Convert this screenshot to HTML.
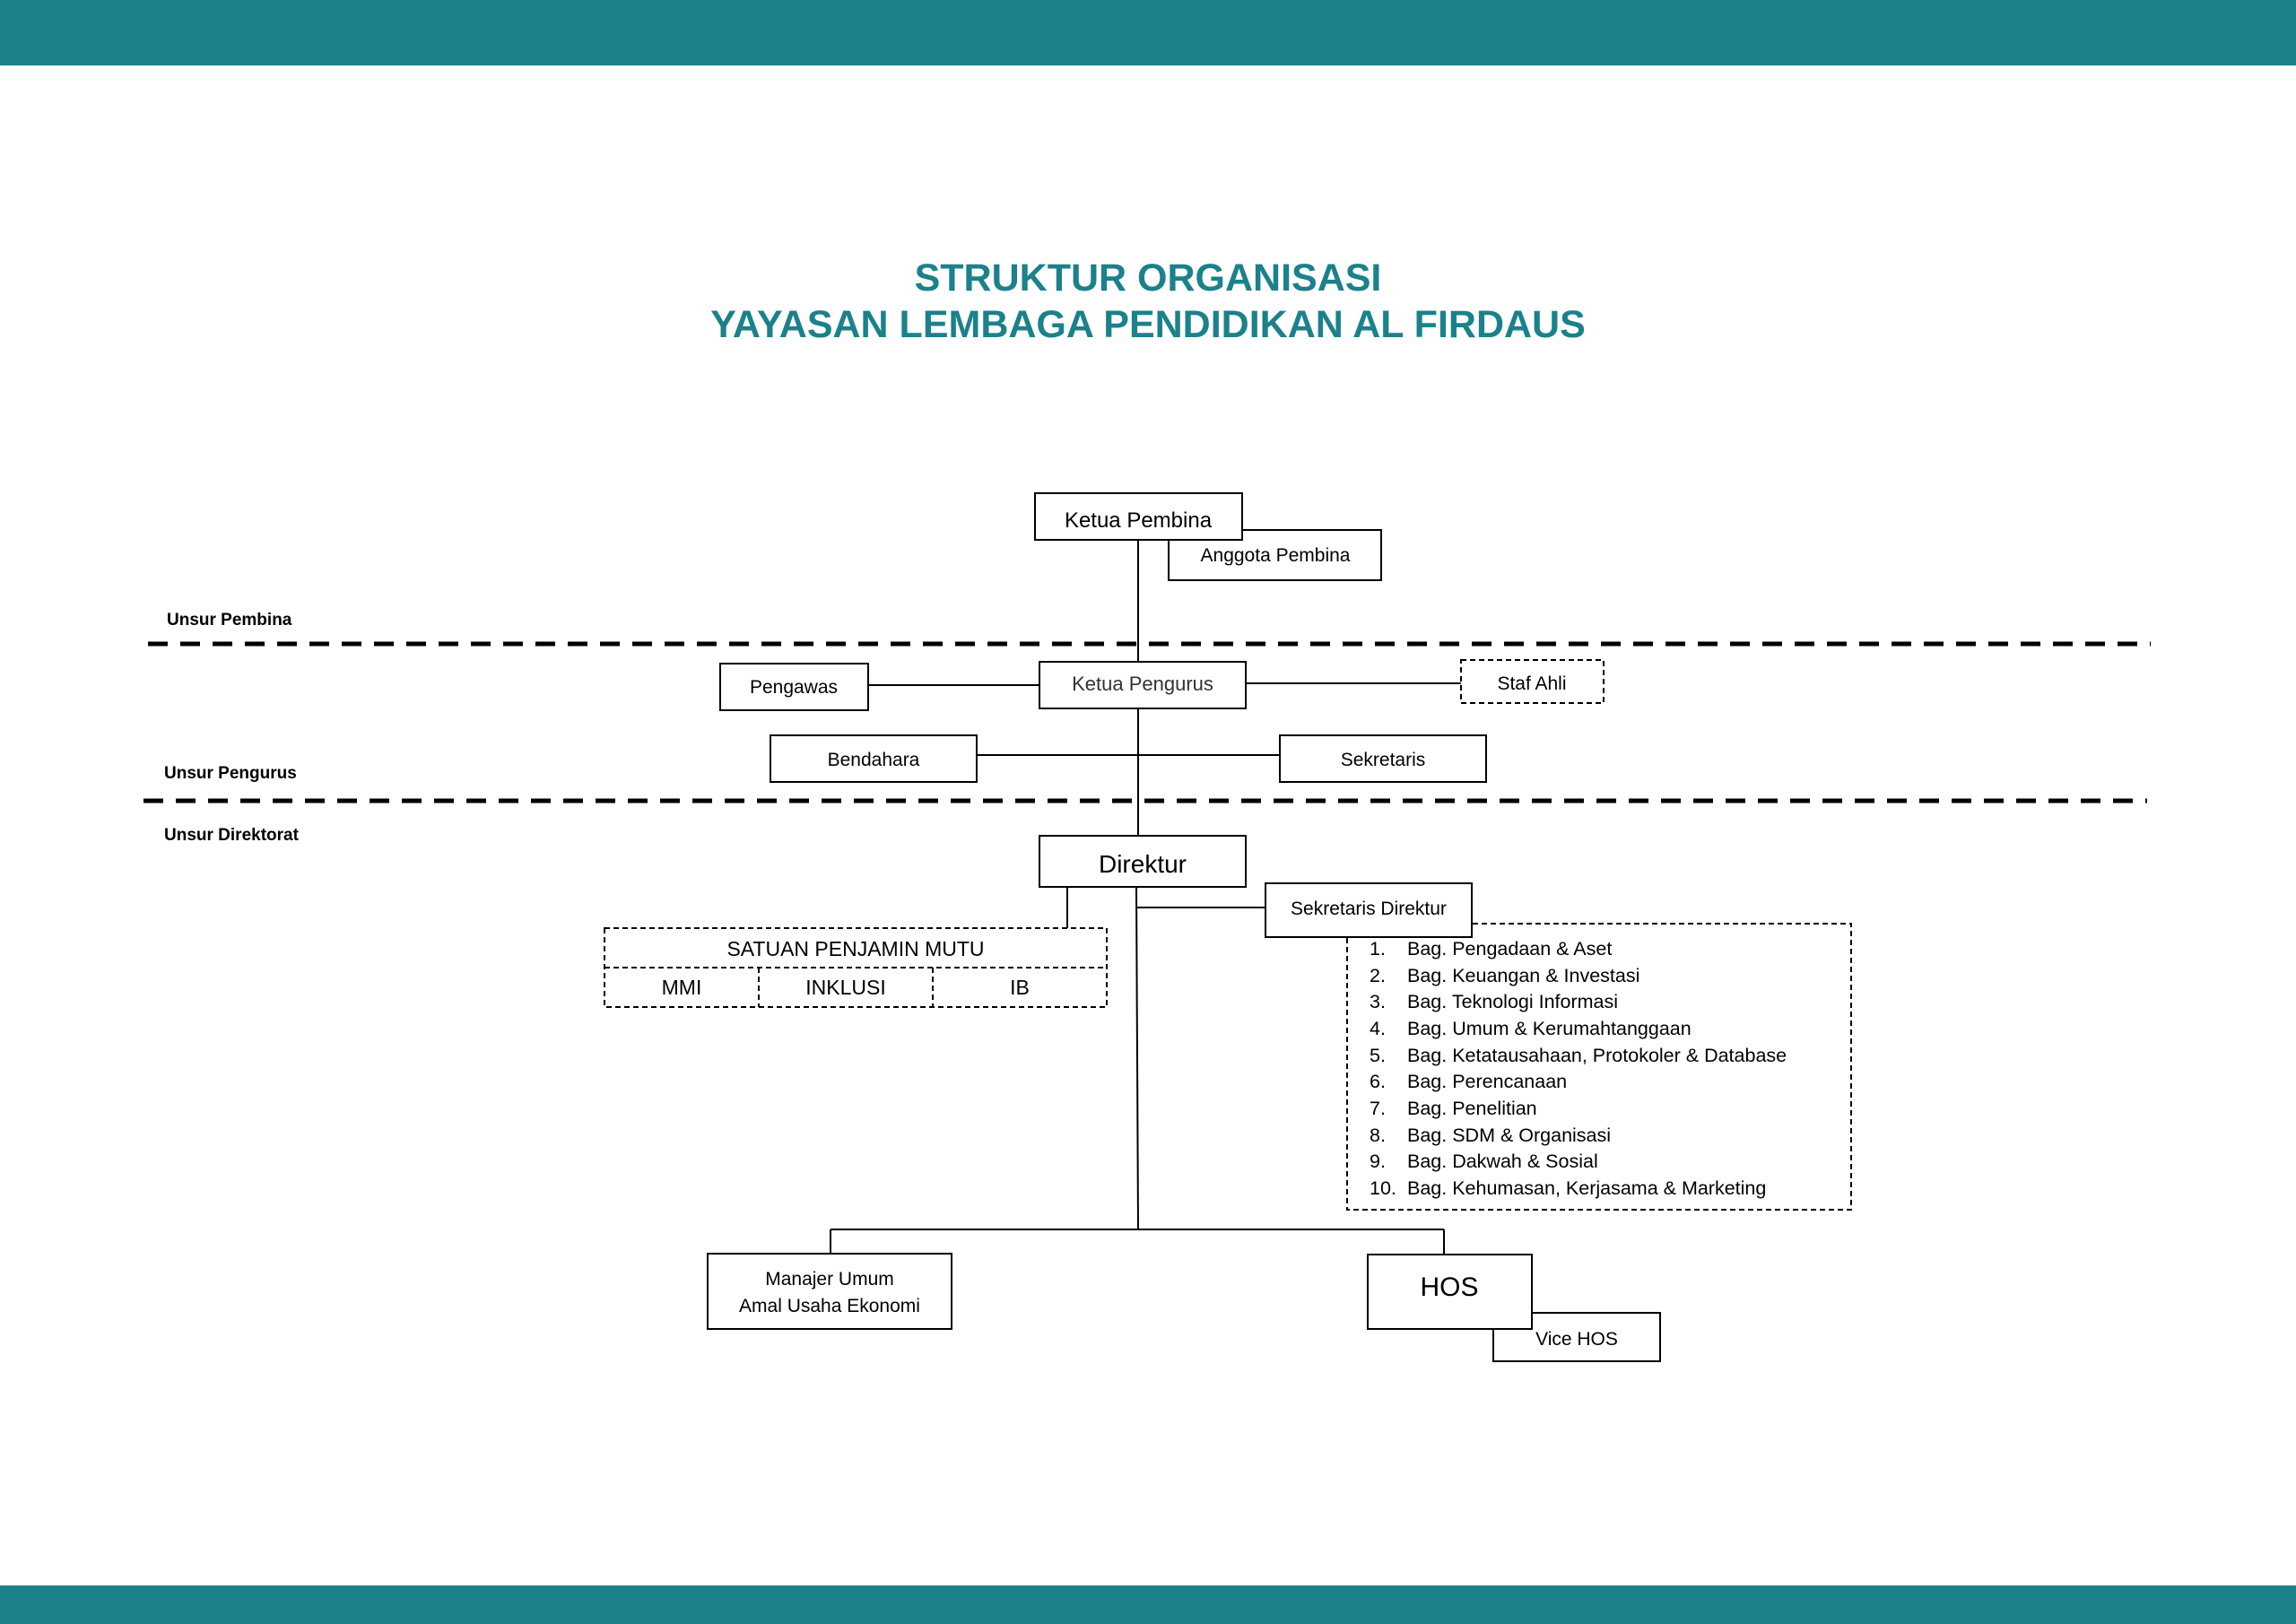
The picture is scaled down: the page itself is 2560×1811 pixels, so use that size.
<!DOCTYPE html>
<html><head><meta charset="utf-8"><style>
html,body{margin:0;padding:0;background:#fff;}
svg{display:block;}
text{font-family:"Liberation Sans",sans-serif;fill:#000;}
</style></head><body>
<svg width="2560" height="1811" viewBox="0 0 2560 1811" xmlns="http://www.w3.org/2000/svg">
<rect x="0" y="0" width="2560" height="73" fill="#1b818b"/>
<rect x="0" y="1768" width="2560" height="43" fill="#1b818b"/>
<text x="1280" y="324" text-anchor="middle" font-size="43" font-weight="bold" style="fill:#1b818b">STRUKTUR ORGANISASI</text>
<text x="1280" y="376" text-anchor="middle" font-size="43" font-weight="bold" style="fill:#1b818b">YAYASAN LEMBAGA PENDIDIKAN AL FIRDAUS</text>

<!-- section labels -->
<text x="186" y="697" font-size="19" font-weight="bold">Unsur Pembina</text>
<text x="183" y="868" font-size="19" font-weight="bold">Unsur Pengurus</text>
<text x="183" y="937" font-size="19" font-weight="bold">Unsur Direktorat</text>
<line x1="165" y1="718" x2="2398" y2="718" stroke="#000" stroke-width="5" stroke-dasharray="22 14"/>
<line x1="160" y1="893" x2="2394" y2="893" stroke="#000" stroke-width="5" stroke-dasharray="22 14"/>

<g stroke="#000" stroke-width="2" fill="none">
<line x1="1269" y1="602" x2="1269" y2="932"/>
<line x1="968" y1="764" x2="1159" y2="764"/>
<line x1="1389" y1="762" x2="1629" y2="762"/>
<line x1="1089" y1="842" x2="1427" y2="842"/>
<line x1="1190" y1="989" x2="1190" y2="1035"/>
<line x1="1267" y1="989" x2="1269" y2="1371"/>
<line x1="1267" y1="1012" x2="1411" y2="1012"/>
<line x1="926" y1="1371" x2="1610" y2="1371"/>
<line x1="926" y1="1371" x2="926" y2="1398"/>
<line x1="1610" y1="1371" x2="1610" y2="1399"/>
</g>

<g stroke="#000" stroke-width="2" fill="#fff">
<rect x="1303" y="591" width="237" height="56"/>
<rect x="1154" y="550" width="231" height="52"/>
<rect x="803" y="740" width="165" height="52"/>
<rect x="1159" y="738" width="230" height="52"/>
<rect x="1629" y="736" width="159" height="48" stroke-dasharray="6 4"/>
<rect x="859" y="820" width="230" height="52"/>
<rect x="1427" y="820" width="230" height="52"/>
<rect x="1159" y="932" width="230" height="57"/>
<rect x="674" y="1035" width="560" height="88" stroke-dasharray="6 4"/>
<line x1="674" y1="1079" x2="1234" y2="1079" stroke-dasharray="6 4"/>
<line x1="846" y1="1079" x2="846" y2="1123" stroke-dasharray="6 4"/>
<line x1="1040" y1="1079" x2="1040" y2="1123" stroke-dasharray="6 4"/>
<rect x="1502" y="1030" width="562" height="319" stroke-dasharray="6 4"/>
<rect x="1411" y="985" width="230" height="60"/>
<rect x="789" y="1398" width="272" height="84"/>
<rect x="1665" y="1464" width="186" height="54"/>
<rect x="1525" y="1399" width="183" height="83"/>
</g>

<g font-size="23" text-anchor="middle">
<text x="1269" y="588" font-size="24">Ketua Pembina</text>
<text x="1422" y="626" font-size="21">Anggota Pembina</text>
<text x="885" y="773" font-size="21">Pengawas</text>
<text x="1274" y="770" font-size="22" style="fill:#333">Ketua Pengurus</text>
<text x="1708" y="769" font-size="21">Staf Ahli</text>
<text x="974" y="854" font-size="21">Bendahara</text>
<text x="1542" y="854" font-size="21">Sekretaris</text>
<text x="1274" y="973" font-size="28">Direktur</text>
<text x="1526" y="1020" font-size="21">Sekretaris Direktur</text>
<text x="954" y="1066" font-size="23">SATUAN PENJAMIN MUTU</text>
<text x="760" y="1109" font-size="23">MMI</text>
<text x="943" y="1109" font-size="23">INKLUSI</text>
<text x="1137" y="1109" font-size="23">IB</text>
<text x="925" y="1433" font-size="21">Manajer Umum</text>
<text x="925" y="1463" font-size="21">Amal Usaha Ekonomi</text>
<text x="1616" y="1445" font-size="30">HOS</text>
<text x="1758" y="1500" font-size="21">Vice HOS</text>
</g>

<g font-size="21.5">
<text x="1527" y="1065">1.</text><text x="1569" y="1065">Bag. Pengadaan &amp; Aset</text>
<text x="1527" y="1095">2.</text><text x="1569" y="1095">Bag. Keuangan &amp; Investasi</text>
<text x="1527" y="1124">3.</text><text x="1569" y="1124">Bag. Teknologi Informasi</text>
<text x="1527" y="1154">4.</text><text x="1569" y="1154">Bag. Umum &amp; Kerumahtanggaan</text>
<text x="1527" y="1184">5.</text><text x="1569" y="1184">Bag. Ketatausahaan, Protokoler &amp; Database</text>
<text x="1527" y="1213">6.</text><text x="1569" y="1213">Bag. Perencanaan</text>
<text x="1527" y="1243">7.</text><text x="1569" y="1243">Bag. Penelitian</text>
<text x="1527" y="1273">8.</text><text x="1569" y="1273">Bag. SDM &amp; Organisasi</text>
<text x="1527" y="1302">9.</text><text x="1569" y="1302">Bag. Dakwah &amp; Sosial</text>
<text x="1527" y="1332">10.</text><text x="1569" y="1332">Bag. Kehumasan, Kerjasama &amp; Marketing</text>
</g>
</svg>
</body></html>
